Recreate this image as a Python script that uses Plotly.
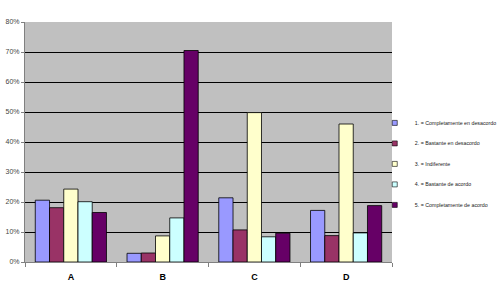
import plotly.graph_objects as go

categories = ["A", "B", "C", "D"]
series_names = [
    "1. = Completamente en desacordo",
    "2. = Bastante en desacordo",
    "3. = Indiferente",
    "4. = Bastante de acordo",
    "5. = Completamente de acordo",
]
s1 = [0.206, 0.029, 0.214, 0.172]
s2 = [0.181, 0.030, 0.107, 0.088]
s3 = [0.243, 0.087, 0.498, 0.460]
s4 = [0.201, 0.147, 0.084, 0.097]
s5 = [0.165, 0.705, 0.096, 0.188]
series_values = [s1, s2, s3, s4, s5]
colors = ["#9999FF", "#993366", "#FFFFCC", "#CCFFFF", "#660066"]
y_ticks = [0, 0.1, 0.2, 0.3, 0.4, 0.5, 0.6, 0.7, 0.8]

fig = go.Figure()
for i, (name, vals, col) in enumerate(zip(series_names, series_values, colors)):
    fig.add_trace(go.Bar(
        x=categories, y=vals, name=name,
        marker=dict(color=col, line=dict(color="#000000", width=0.8)),
        showlegend=False,
    ))
# legend entries with small square swatches
for i, (name, col) in enumerate(zip(series_names, colors)):
    fig.add_trace(go.Scatter(
        x=[None], y=[None], mode="markers", name=name,
        marker=dict(symbol="square", size=5, color=col,
                    line=dict(color="#000000", width=0.6)),
        legendgroup=f"g{i}",
    ))

fig.update_layout(
    width=500, height=298,
    margin=dict(l=25, r=108, t=22, b=36, autoexpand=False),
    paper_bgcolor="white",
    plot_bgcolor="#C0C0C0",
    barmode="group",
    bargap=0.224,
    bargroupgap=0,
    showlegend=True,
    font=dict(family="Arial, Liberation Sans, sans-serif", color="#000000"),
    legend=dict(
        x=0.953, xanchor="left", y=0.64, yanchor="top",
        font=dict(size=5.3, color="#222222"),
        tracegroupgap=1.5,
        itemwidth=30,
        bgcolor="rgba(0,0,0,0)",
    ),
    xaxis=dict(
        showline=True, linecolor="#808080", linewidth=1,
        ticks="outside", tickcolor="#808080", ticklen=4,
        tickson="boundaries",
        ticklabelstandoff=6,
        tickfont=dict(size=9, family="Arial, Liberation Sans", weight="bold", color="#000000"),
        showgrid=False,
        automargin=False,
    ),
    yaxis=dict(
        range=[0, 0.8], tickvals=y_ticks, tickformat=".0%",
        showline=True, linecolor="#808080", linewidth=1,
        ticks="outside", tickcolor="#808080", ticklen=3,
        tickfont=dict(size=7, color="#444444"),
        showgrid=True, gridcolor="#000000", gridwidth=1,
        zeroline=False,
        automargin=False,
    ),
)
fig.write_html("out.html")
